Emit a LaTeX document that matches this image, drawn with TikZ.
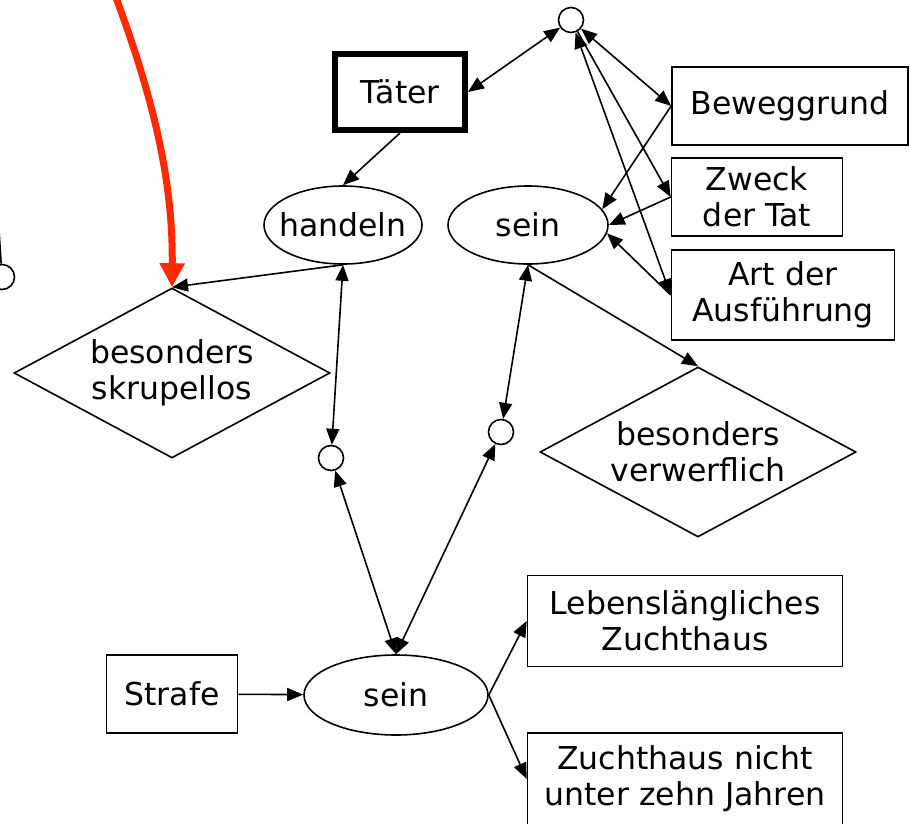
\documentclass[tikz,border=0pt]{standalone}
\usepackage{fontspec}
\setmainfont{DejaVu Sans}
\usetikzlibrary{shapes.geometric,arrows.meta}
\definecolor{signal}{HTML}{FF2A00}

\begin{document}
\begin{tikzpicture}[
    x=1pt, y=-1pt,
    line width=1.6pt,
    font=\fontsize{31.5}{36}\selectfont,
    >={Triangle[length=16pt,width=13pt]},
    box/.style={rectangle, draw, line width=1.6pt, align=center, inner sep=0pt},
    oval/.style={ellipse, draw, line width=1.6pt, inner sep=0pt},
    rhomb/.style={diamond, draw, line width=1.6pt, align=center, inner sep=0pt,
                  shape aspect=1.86},
    dot/.style={circle, draw, line width=1.6pt, inner sep=0pt, minimum size=25pt},
    link/.style={->},
    twoway/.style={<->},
    hint/.style={-{Triangle[length=24pt,width=24pt]}, line width=7pt, signal}
]
\clip (0,0) rectangle (910,824);

% Nodes
\node[box, line width=6pt, minimum width=130pt, minimum height=76pt] (taeter) at (400,92) {Täter};
\node[dot] (ctop) at (571,20) {};
\node[box, minimum width=236pt, minimum height=78pt] (beweg) at (790,106) {Beweggrund};
\node[box, minimum width=171pt, minimum height=78pt] (zweck) at (757,197) {Zweck\\der Tat};
\node[box, minimum width=223pt, minimum height=90pt] (art) at (783,295) {Art der\\Ausführung};
\node[oval, inner xsep=-10pt, minimum width=158pt, minimum height=78pt] (handeln) at (343,225) {handeln};
\node[oval, minimum width=160pt, minimum height=78pt] (seinO) at (528,225) {sein};
\node[rhomb, minimum width=316pt, minimum height=170pt] (skrup) at (172,373) {besonders\\skrupellos};
\node[dot] (cL) at (331,458) {};
\node[dot] (cR) at (501,432) {};
\node[rhomb, minimum width=316pt, minimum height=170pt] (verw) at (698,452) {besonders\\verwerflich};
\node[oval, minimum width=184pt, minimum height=80pt] (seinU) at (396,695) {sein};
\node[box, minimum width=131pt, minimum height=78pt] (strafe) at (172,694) {Strafe};
\node[box, minimum width=315pt, minimum height=91pt] (leb) at (685,621) {Lebenslängliches\\Zuchthaus};
\node[box, minimum width=315pt, minimum height=92pt] (zehn) at (685,779) {Zuchthaus nicht\\unter zehn Jahren};
\node[dot] (cX) at (2,277) {};
\coordinate (offX) at (-1,230);

% Arrows
\draw[twoway] (taeter.east) -- (ctop);
\draw[twoway] (ctop) -- (beweg.west);
\draw[link] (ctop) -- (zweck.west);
\draw[twoway] (ctop) -- (art.west);
\draw[link] (beweg.west) -- (seinO.12);
\draw[link] (zweck.west) -- (seinO.east);
\draw[link] (art.west) -- (seinO.-6);
\draw[link] (taeter.south) -- (handeln.north);
\draw[link] (handeln.south) -- (skrup.north);
\draw[twoway] (handeln.south) -- (cL);
\draw[twoway] (seinO.south) -- (cR);
\draw[link] (seinO.south) -- (verw.north);
\draw[twoway] (cL) -- (seinU.north);
\draw[twoway] (cR) -- (seinU.north);
\draw[link] (strafe) -- (seinU);
\draw[link] (seinU.east) -- (leb.west);
\draw[link] (seinU.east) -- (zehn.west);
\draw (offX) -- (cX);

% Red pointer
\draw[hint] (115,-5) .. controls (158,110) and (173,190) .. (skrup.north);

\end{tikzpicture}
\end{document}
